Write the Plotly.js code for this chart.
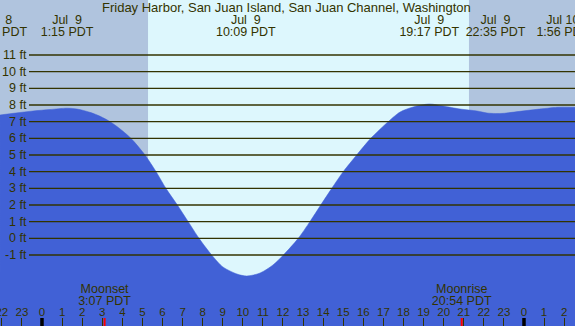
<!DOCTYPE html>
<html><head><meta charset="utf-8">
<script src="https://cdn.plot.ly/plotly-3.0.1.min.js"></script>
<style>html,body{margin:0;padding:0;overflow:hidden;background:#B0C4DE}</style>
</head><body><div id="chart" style="width:575px;height:326px"></div>
<script>
// ---- data (hours relative to midnight starting Jul 9, PDT) ----
const tideHours = [-2.09, -1.3, -0.45, 0.4, 1.25, 1.74, 2.39, 2.9, 3.39, 3.80, 4.43, 5.13, 5.68, 6.17, 6.74, 7.28, 7.82, 8.45, 9.01, 9.71, 10.20, 10.86, 11.50, 12.02, 12.76, 13.34, 13.88, 14.43, 15.00, 15.67, 16.37, 17.24, 17.83, 18.48, 19.28, 19.97, 20.82, 21.66, 22.16, 22.58, 22.96, 23.80, 24.65, 25.65, 25.93, 26.54];
const tideFeet  = [7.40, 7.52, 7.64, 7.73, 7.81, 7.76, 7.56, 7.32, 7.00, 6.65, 6.00, 5.00, 4.00, 3.00, 2.00, 1.00, 0.00, -1.00, -1.72, -2.14, -2.26, -2.08, -1.60, -1.00, 0.00, 1.00, 2.00, 3.00, 4.00, 5.00, 6.00, 7.00, 7.58, 7.88, 8.06, 7.94, 7.76, 7.64, 7.52, 7.49, 7.50, 7.62, 7.74, 7.86, 7.87, 7.86];

const extremeHours = [-2.23, 1.25, 10.15, 19.283, 22.583, 25.933];
const extremeDates = ['Jul\u00a0\u00a08', 'Jul\u00a0\u00a09', 'Jul\u00a0\u00a09', 'Jul\u00a0\u00a09', 'Jul\u00a0\u00a09', 'Jul\u00a010'];
const extremeTimes = ['21:46 PDT', '1:15 PDT', '10:09 PDT', '19:17 PDT', '22:35 PDT', '1:56 PDT'];

const hourTicks  = [-2,-1,0,1,2,3,4,5,6,7,8,9,10,11,12,13,14,15,16,17,18,19,20,21,22,23,24,25,26];
const hourLabels = ['22','23','0','1','2','3','4','5','6','7','8','9','10','11','12','13','14','15','16','17','18','19','20','21','22','23','0','1','2'];
const midnightHours = [0, 24];

const moonNames = ['Moonset', 'Moonrise'];
const moonHours = [3.117, 20.9];
const moonTimes = ['3:07 PDT', '20:54 PDT'];

const sunriseHour = 5.28, sunsetHour = 21.26;

const feetTicks  = [-1,0,1,2,3,4,5,6,7,8,9,10,11];
const feetLabels = ['-1 ft','0 ft','1 ft','2 ft','3 ft','4 ft','5 ft','6 ft','7 ft','8 ft','9 ft','10 ft','11 ft'];

const titleText = 'Friday Harbor, San Juan Island, San Juan Channel, Washington';

// ---- styles ----
const W = 575, H = 326;
const xRange = [-2.091, 26.54];
const yRange = [-5.26, 14.30];
const nightColor = '#B0C4DE', dayColor = '#DDF7FD', tideColor = '#4161D6';
const ink = '#333300';
const FONT = 'Liberation Sans, Arial, sans-serif';
const ROW_DATE = 13.07, ROW_TIME = 12.35, ROW_MOON = -3.07, ROW_MOONT = -3.79, ROW_HOUR = -4.47;

const textTrace = (xs, ys, txt, size) => ({
  x: xs, y: ys, text: txt, mode: 'text', type: 'scatter',
  textposition: 'middle center', cliponaxis: true, hoverinfo: 'skip',
  textfont: {family: FONT, size: size, color: ink}
});

const traces = [
  {x: [tideHours[0], tideHours[tideHours.length-1]], y: [yRange[0], yRange[0]],
   mode: 'lines', line: {width: 0, color: tideColor}, hoverinfo: 'skip', type: 'scatter'},
  {x: tideHours, y: tideFeet, mode: 'lines', type: 'scatter', fill: 'tonexty',
   fillcolor: tideColor, line: {color: tideColor, width: 0.5, shape: 'spline', smoothing: 0.8}, hoverinfo: 'skip'},
  textTrace(extremeHours, extremeHours.map(() => ROW_DATE), extremeDates, 12.5),
  textTrace(extremeHours, extremeHours.map(() => ROW_TIME), extremeTimes, 12.5),
  textTrace(moonHours, moonHours.map(() => ROW_MOON), moonNames, 12.5),
  textTrace(moonHours, moonHours.map(() => ROW_MOONT), moonTimes, 12.5),
  textTrace(hourTicks, hourTicks.map(() => ROW_HOUR), hourLabels, 11.5)
];

const shapes = [
  {type: 'rect', xref: 'x', yref: 'paper', x0: sunriseHour, x1: sunsetHour, y0: 0, y1: 1,
   fillcolor: dayColor, line: {width: 0}, layer: 'below'}
];
feetTicks.forEach(v => shapes.push({type: 'line', xref: 'paper', yref: 'y', x0: 29/W, x1: 1, y0: v, y1: v,
  line: {color: ink, width: 1.3}, layer: 'above'}));
midnightHours.forEach(h => shapes.push({type: 'line', xref: 'x', yref: 'paper', x0: h, x1: h, y0: 0, y1: 8/H,
  line: {color: '#000000', width: 3.5}, layer: 'above'}));
moonHours.forEach(h => shapes.push({type: 'line', xref: 'x', yref: 'paper', x0: h, x1: h, y0: 0, y1: 8/H,
  line: {color: '#FF0000', width: 2}, layer: 'above'}));

const annotations = [
  {text: titleText, xref: 'paper', yref: 'paper', x: 0.4985, y: 1 - 7.5/H, xanchor: 'center', yanchor: 'middle',
   showarrow: false, font: {family: FONT, size: 13, color: ink}}
];
feetTicks.forEach((v, i) => annotations.push({text: feetLabels[i], xref: 'paper', yref: 'y', x: 29/W, y: v,
  xanchor: 'right', yanchor: 'middle', showarrow: false, font: {family: FONT, size: 12.5, color: ink}}));

const layout = {
  width: W, height: H, margin: {l: 0, r: 0, t: 0, b: 0, pad: 0},
  paper_bgcolor: nightColor, plot_bgcolor: nightColor, showlegend: false,
  xaxis: {range: xRange, showgrid: false, zeroline: false, showline: false, showticklabels: false,
          tickmode: 'array', tickvals: hourTicks, ticks: 'inside', ticklen: 8, tickwidth: 1, tickcolor: ink, fixedrange: true},
  yaxis: {range: yRange, showgrid: false, zeroline: false, showline: false, showticklabels: false, ticks: '', fixedrange: true},
  shapes: shapes, annotations: annotations
};

Plotly.newPlot('chart', traces, layout, {staticPlot: true, displayModeBar: false});
</script></body></html>
